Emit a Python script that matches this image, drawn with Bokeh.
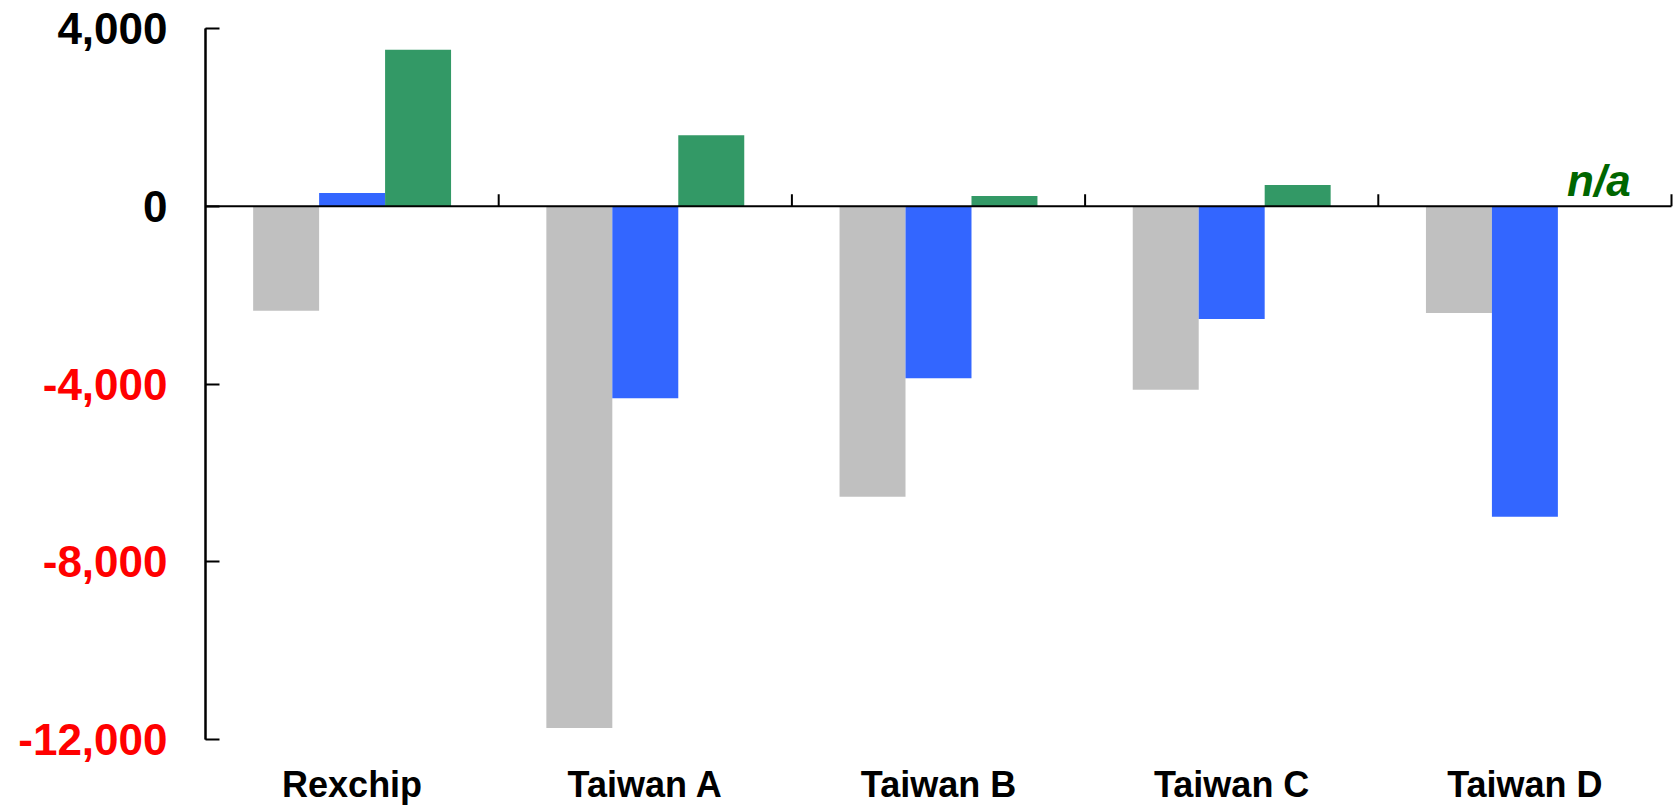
from bokeh.plotting import figure
from bokeh.models import Range1d, FixedTicker, Label, LinearAxis
from bokeh.embed import file_html
from bokeh.resources import INLINE

# Companies on the category axis and the three series plotted for each
companies = ["Rexchip", "Taiwan A", "Taiwan B", "Taiwan C", "Taiwan D"]
series_gray = [-2350, -11740, -6540, -4130, -2400]
series_blue = [300, -4320, -3870, -2540, -6990]
series_green = [3520, 1600, 230, 480, None]   # None -> not available
y_ticks = [-12000, -8000, -4000, 0, 4000]

series = [
    (series_gray, "#C0C0C0"),
    (series_blue, "#3366FF"),
    (series_green, "#339966"),
]

FONT = "Liberation Sans"
n = len(companies)
bar_w = 0.225

# The frame fills the whole canvas so that the axis labels, drawn by axes
# pinned inside it, are never cut off. The chart area proper spans
# pixels [AX_L, AX_R] x [AX_T, AX_B].
W, H = 1675, 807
AX_L, AX_R, AX_T, AX_B = 205, 1671, 28, 739
x_per_px = n / (AX_R - AX_L)
y_per_px = (y_ticks[-1] - y_ticks[0]) / (AX_B - AX_T)
x_range = Range1d(-AX_L * x_per_px, n + (W - AX_R) * x_per_px)
y_range = Range1d(y_ticks[0] - (H - AX_B) * y_per_px, y_ticks[-1] + AX_T * y_per_px)

p = figure(
    width=W, height=H, x_range=x_range, y_range=y_range,
    output_backend="svg", toolbar_location=None,
    x_axis_location=None, y_axis_location=None,
    min_border=0,
)
p.outline_line_color = None
p.xgrid.visible = False
p.ygrid.visible = False
p.background_fill_color = "white"
p.border_fill_color = "white"

# grouped bars
for j, (vals, color) in enumerate(series):
    xs, tops = [], []
    for i, v in enumerate(vals):
        if v is None:
            continue
        xs.append(i + 0.5 + (j - 1) * bar_w)
        tops.append(v)
    p.vbar(x=xs, top=tops, bottom=0, width=bar_w, fill_color=color, line_color=None)

# "n/a" where a value is missing
for j, (vals, color) in enumerate(series):
    for i, v in enumerate(vals):
        if v is None:
            p.add_layout(Label(
                x=i + 0.5 + (j - 1) * bar_w, y=0, y_offset=26, x_offset=8,
                text="n/a", text_align="center", text_baseline="alphabetic",
                text_font=FONT, text_font_size="44px",
                text_font_style="bold italic", text_color="#006600",
            ))

# zero line with category separators
p.segment(x0=[0], y0=[0], x1=[n], y1=[0], line_color="black", line_width=2)
tick_h = 12 * y_per_px
bounds = list(range(1, n + 1))
p.segment(x0=bounds, y0=[0] * n, x1=bounds, y1=[tick_h] * n,
          line_color="black", line_width=2)


# value axes pinned at x = 0: negative labels in red, the rest in black
def y_axis(ticks, color):
    ax = LinearAxis(fixed_location=0, bounds=(y_ticks[0], y_ticks[-1]))
    ax.ticker = FixedTicker(ticks=ticks)
    ax.major_label_overrides = {t: f"{t:,}" for t in ticks}
    ax.minor_tick_line_color = None
    ax.major_tick_in = 14
    ax.major_tick_out = 0
    ax.axis_line_width = 2
    ax.major_tick_line_width = 2
    ax.major_label_standoff = 38
    ax.major_label_text_font = FONT
    ax.major_label_text_font_size = "44px"
    ax.major_label_text_font_style = "bold"
    ax.major_label_text_color = color
    p.add_layout(ax, "left")


y_axis([t for t in y_ticks if t < 0], "#FF0000")
y_axis([t for t in y_ticks if t >= 0], "black")

# company names under the chart area
xa = LinearAxis(fixed_location=y_ticks[0], bounds=(0, n))
xa.ticker = FixedTicker(ticks=[i + 0.5 for i in range(n)])
xa.major_label_overrides = {i + 0.5: c for i, c in enumerate(companies)}
xa.axis_line_color = None
xa.major_tick_line_color = None
xa.minor_tick_line_color = None
xa.major_label_standoff = 18
xa.major_label_text_font = FONT
xa.major_label_text_font_size = "36px"
xa.major_label_text_font_style = "bold"
xa.major_label_text_color = "black"
p.add_layout(xa, "below")

open("out.html", "w").write(file_html(p, INLINE))
